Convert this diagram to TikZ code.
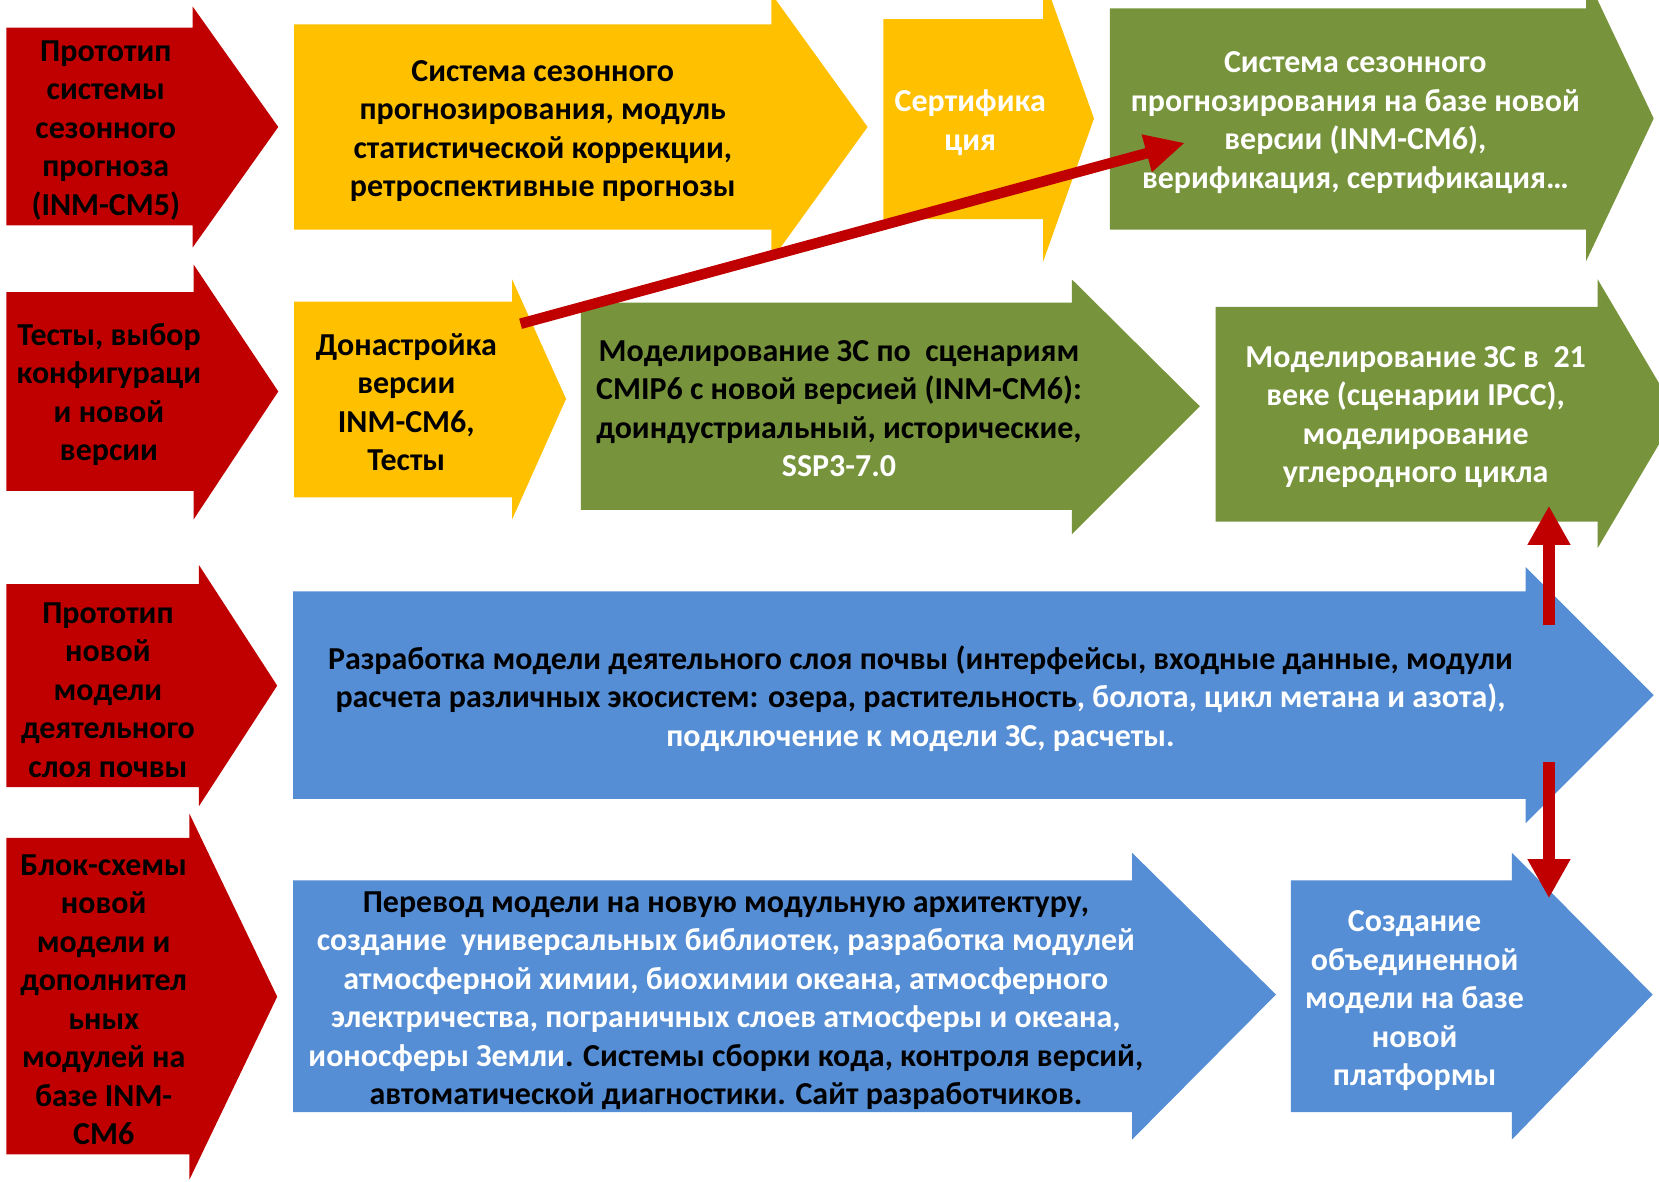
\documentclass[tikz,border=0pt]{standalone}
\usepackage{fontspec}
\setmainfont{Carlito}
\usetikzlibrary{arrows.meta}
\definecolor{arrred}{HTML}{C00000}
\definecolor{arryellow}{HTML}{FFC000}
\definecolor{arrgreen}{HTML}{77933C}
\definecolor{arrblue}{HTML}{558ED5}

\begin{document}
\begin{tikzpicture}[x=0.2mm, y=-0.2mm,
	txt/.style={align=center, inner sep=0pt, font=\fontsize{17.2}{20.7}\selectfont\bfseries},
	link/.style={arrred, line width=2.4mm, -{Triangle[width=7.6mm, length=7.4mm]}},
	slant/.style={arrred, line width=2mm, -{Triangle[width=6.8mm, length=7.5mm]}}]

	\useasboundingbox (0,0) rectangle (1568,1117);
	\clip (0,0) rectangle (1568,1117);

%row 1
	\fill[arrred] (6,26) -- (182,26) -- (182,6) -- (263,120) -- (182,234) -- (182,213) -- (6,213) -- cycle;
	\fill[arryellow] (278,23) -- (729,23) -- (729,-6) -- (820,120) -- (729,246) -- (729,217) -- (278,217) -- cycle;
	\fill[arryellow] (835,18) -- (986,18) -- (986,-22) -- (1034,112) -- (986,247) -- (986,207) -- (835,207) -- cycle;
	\fill[arrgreen] (1049,8) -- (1499,8) -- (1499,-23) -- (1563,112) -- (1499,247) -- (1499,217) -- (1049,217) -- cycle;

%row 2
	\fill[arrred] (6,276) -- (183,276) -- (183,250) -- (263,370) -- (183,491) -- (183,464) -- (6,464) -- cycle;
	\fill[arryellow] (278,285) -- (484,285) -- (484,264) -- (535,377) -- (484,491) -- (484,470) -- (278,470) -- cycle;
	\fill[arrgreen] (549,286) -- (1013,286) -- (1013,264) -- (1134,384) -- (1013,505) -- (1013,482) -- (549,482) -- cycle;
	\fill[arrgreen] (1149,290) -- (1510,290) -- (1510,264) -- (1585,391) -- (1510,518) -- (1510,493) -- (1149,493) -- cycle;

%row 3
	\fill[arrred] (6,552) -- (188,552) -- (188,534) -- (262,648) -- (188,762) -- (188,744) -- (6,744) -- cycle;
	\fill[arrblue] (277,559) -- (1442,559) -- (1442,536) -- (1563,657) -- (1442,778) -- (1442,755) -- (277,755) -- cycle;

%row 4
	\fill[arrred] (6,792) -- (179,792) -- (179,769) -- (262,942) -- (179,1115) -- (179,1091) -- (6,1091) -- cycle;
	\fill[arrblue] (277,832) -- (1070,832) -- (1070,806) -- (1206,940) -- (1070,1077) -- (1070,1051) -- (277,1051) -- cycle;
	\fill[arrblue] (1220,832) -- (1429,832) -- (1429,806) -- (1562,940) -- (1429,1077) -- (1429,1051) -- (1220,1051) -- cycle;

%texts
	\node[txt] (proto) at (100,123) {Прототип\\системы\\сезонного\\прогноза\\(INM-CM5)};
	\node[txt] (seasonal) at (513,124) {Система сезонного\\прогнозирования, модуль\\статистической коррекции,\\ретроспективные прогнозы};
	\node[txt, white] (cert) at (917,116) {Сертифика\\ция};
	\node[txt, white] (newseason) at (1281,116) {Система сезонного\\прогнозирования на базе новой\\версии (INM-CM6),\\верификация, сертификация…};
	%
	\node[txt] (tests) at (103,373) {Тесты, выбор\\конфигураци\\и новой\\версии};
	\node[txt] (tuning) at (384,380) {Донастройка\\версии\\INM-CM6,\\Тесты};
	\node[txt] (cmip) at (793,386) {Моделирование ЗС по\ \ сценариям\\CMIP6 с новой версией (INM-CM6):\\доиндустриальный, исторические,\\\textcolor{white}{SSP3-7.0}};
	\node[txt, white] (century) at (1338,394) {Моделирование ЗС в\ \ 21\\веке (сценарии IPCC),\\моделирование\\углеродного цикла};
	%
	\node[txt] (soilproto) at (102,652) {Прототип\\новой\\модели\\деятельного\\слоя почвы};
	\node[txt] (soil) at (870,660) {Разработка модели деятельного слоя почвы (интерфейсы, входные данные, модули\\расчета различных экосистем: озера, растительность\textcolor{white}{, болота, цикл метана и азота),}\\\textcolor{white}{подключение к модели ЗС, расчеты.}};
	%
	\node[txt] (blocks) at (98,945) {Блок-схемы\\новой\\модели и\\дополнител\\ьных\\модулей на\\базе INM-\\CM6};
	\node[txt] (modular) at (686,946) {Перевод модели на новую модульную архитектуру,\\\textcolor{white}{создание\ \ универсальных библиотек, разработка модулей}\\\textcolor{white}{атмосферной химии, биохимии океана, атмосферного}\\\textcolor{white}{электричества, пограничных слоев атмосферы и океана,}\\\textcolor{white}{ионосферы Земли}. Системы сборки кода, контроля версий,\\автоматической диагностики. Сайт разработчиков.};
	\node[txt, white] (united) at (1337,946) {Создание\\объединенной\\модели на базе\\новой\\платформы};

%links
	\coordinate (tuneout) at (492,306);
	\coordinate (seasonin) at (1120,135);
	\coordinate (soilup) at (1464,591);
	\coordinate (centuryin) at (1464,478);
	\coordinate (soildown) at (1464,720);
	\coordinate (unitedin) at (1464,849);
	\draw[slant] (tuneout) -- (seasonin);
	\draw[link] (soilup) -- (centuryin);
	\draw[link] (soildown) -- (unitedin);

\end{tikzpicture}
\end{document}
